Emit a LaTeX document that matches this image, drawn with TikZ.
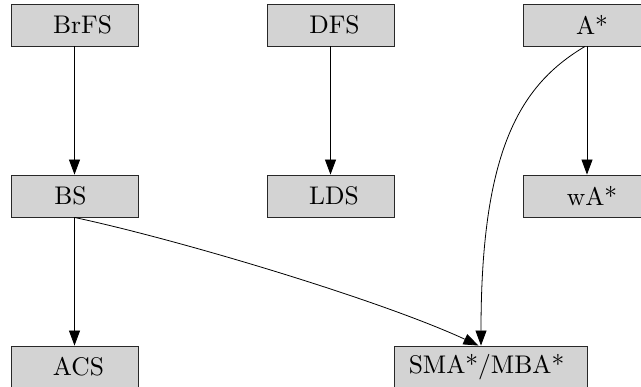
\documentclass[tikz,border=0pt]{standalone}
\usepackage{fontspec}
\newfontfamily\tenrm{lmroman10-regular.otf}
\usetikzlibrary{arrows.meta,calc}
\definecolor{boxfill}{RGB}{211,211,211}
\definecolor{boxline}{RGB}{40,40,40}
\newcommand{\shiftR}[1]{\hspace*{#1}}
\begin{document}
\begin{tikzpicture}[x=1pt,y=-1pt,
  algbox/.style={draw=boxline,line width=0.9pt,fill=boxfill,minimum width=127pt,minimum height=42pt,inner sep=0pt,
    font=\tenrm\fontsize{25.5}{30}\selectfont},
  edge/.style={line width=0.8pt,-{Triangle[length=15pt,width=11pt]}}]
\useasboundingbox (0,0) rectangle (641,387);
\node[algbox] (brfs) at (74.5,25) {\shiftR{16pt}BrFS};
\node[algbox] (dfs) at (330.5,25) {\shiftR{8pt}DFS};
\node[algbox] (astar) at (587,25) {\shiftR{10pt}A*};
\node[algbox] (bs) at (74.5,196) {BS\shiftR{8pt}};
\node[algbox] (lds) at (330.5,196) {\shiftR{7pt}LDS};
\node[algbox] (wastar) at (587,196) {\shiftR{10pt}wA*};
\node[algbox] (acs) at (74.5,367) {\shiftR{8pt}ACS};
\node[algbox,minimum width=193pt] (sma) at (490.5,367) {SMA*/MBA*\shiftR{8pt}};
\draw[edge] (brfs) -- (bs);
\draw[edge] (dfs) -- (lds);
\draw[edge] (astar) -- (wastar);
\draw[edge] (bs) -- (acs);
\draw[edge] (bs.south) .. controls (180,240) and (380,300) .. ([xshift=-12pt]sma.north);
\draw[edge] ([xshift=-2pt]astar.south) .. controls (520,85) and (481,150) .. ([xshift=-9.5pt]sma.north);
\end{tikzpicture}
\end{document}
